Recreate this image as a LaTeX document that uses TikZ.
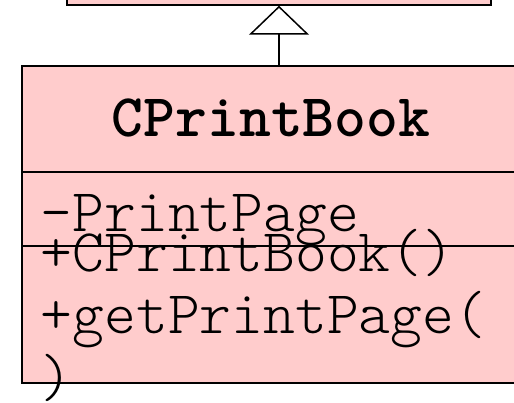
\documentclass[tikz,border=0pt]{standalone}
\usepackage{fontspec}
\setmonofont{Latin Modern Mono Light}
\usetikzlibrary{arrows.meta}
\definecolor{classpink}{HTML}{FFCCCC}

\begin{document}
\begin{tikzpicture}[x=1pt,y=-1pt,line width=1.5pt,
	classbox/.style={draw,fill=classpink,inner sep=0pt},
	member/.style={anchor=base west,inner sep=0pt,font=\ttfamily\fontsize{60.6}{62}\selectfont}]
	\useasboundingbox (0,0) rectangle (514,403);
	\clip (0,0) rectangle (514,403);
	% base class, only its lower edge shows
	\node[classbox,minimum width=424pt,minimum height=60pt] (cbook) at (279,-25) {};
	\node[classbox,minimum width=498pt,minimum height=317pt] (cprintbook) at (271,224.5) {};
	\draw (22,172) coordinate(d1) -- (d1-|cprintbook.east);
	\draw (22,246) coordinate(d2) -- (d2-|cprintbook.east);
	\node[member,anchor=base,font=\ttfamily\bfseries\fontsize{60.6}{62}\selectfont] (title) at (271,137) {CPrintBook};
	\node[member] (attr) at (40,232) {-PrintPage};
	\node[member] (op1) at (40,272) {+CPrintBook()};
	\node[member] (op2) at (40,334) {+getPrintPage(};
	\node[member] (op3) at (40,396) {)};
	\draw[-{Triangle[open,length=29pt,width=60pt,line width=1.5pt]}] (cprintbook.north-|cbook.south) -- (cbook.south);
\end{tikzpicture}
\end{document}
